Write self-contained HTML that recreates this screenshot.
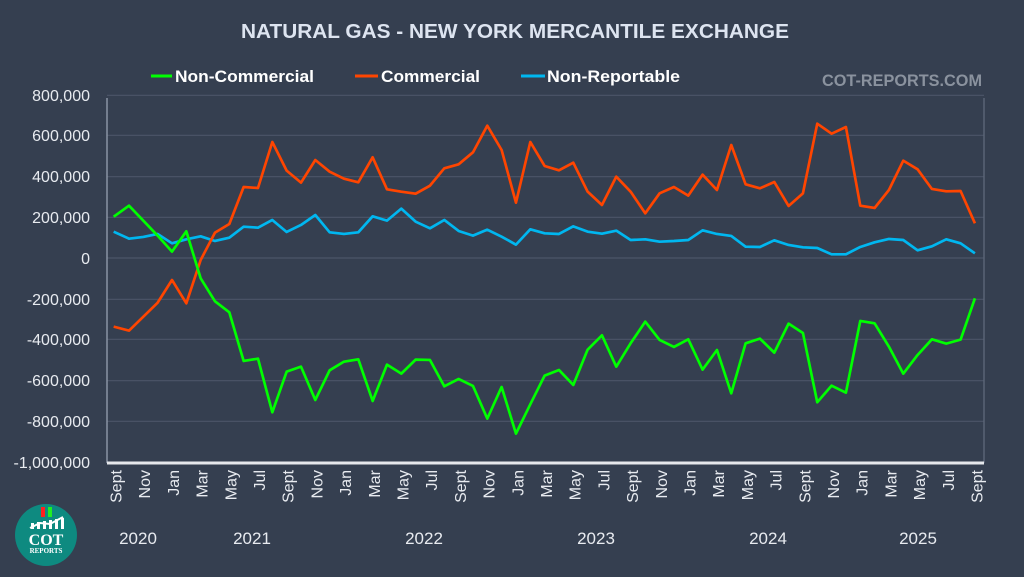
<!DOCTYPE html>
<html><head><meta charset="utf-8"><style>
html,body{margin:0;padding:0;background:#353f50;}
svg{display:block;font-family:"Liberation Sans",sans-serif;}
</style></head><body>
<svg width="1024" height="577" viewBox="0 0 1024 577" xmlns="http://www.w3.org/2000/svg">
<rect width="1024" height="577" fill="#353f50"/>
<text x="515" y="38" text-anchor="middle" font-size="20" font-weight="bold" fill="#dde4f0" textLength="548" lengthAdjust="spacingAndGlyphs">NATURAL GAS - NEW YORK MERCANTILE EXCHANGE</text>
<g font-size="17" fill="#ffffff" font-weight="bold">
<line x1="151" y1="76" x2="172" y2="76" stroke="#00ff00" stroke-width="3"/>
<text x="175" y="82" textLength="139" lengthAdjust="spacingAndGlyphs">Non-Commercial</text>
<line x1="355" y1="76" x2="378" y2="76" stroke="#ff4500" stroke-width="3"/>
<text x="381" y="82" textLength="99" lengthAdjust="spacingAndGlyphs">Commercial</text>
<line x1="521" y1="76" x2="545" y2="76" stroke="#00b7f0" stroke-width="3"/>
<text x="547" y="82" textLength="133" lengthAdjust="spacingAndGlyphs">Non-Reportable</text>
</g>
<text x="822" y="86" font-size="17" font-weight="bold" fill="#8a929e" textLength="160" lengthAdjust="spacingAndGlyphs">COT-REPORTS.COM</text>
<g stroke="#4c5668" stroke-width="1.2">
<line x1="107" y1="95.3" x2="984" y2="95.3"/><line x1="107" y1="135.3" x2="984" y2="135.3"/>
<line x1="107" y1="176.7" x2="984" y2="176.7"/><line x1="107" y1="217.3" x2="984" y2="217.3"/>
<line x1="107" y1="258" x2="984" y2="258"/><line x1="107" y1="299.3" x2="984" y2="299.3"/>
<line x1="107" y1="339.3" x2="984" y2="339.3"/><line x1="107" y1="380.7" x2="984" y2="380.7"/>
<line x1="107" y1="421.3" x2="984" y2="421.3"/>
</g>
<line x1="107" y1="98" x2="107" y2="463" stroke="#8a94a4" stroke-width="1.5"/>
<line x1="984" y1="98" x2="984" y2="463" stroke="#5a6476" stroke-width="1.5"/>
<line x1="107" y1="463" x2="984" y2="463" stroke="#e6e8ec" stroke-width="3"/>
<g font-size="16" fill="#e8ebf0" text-anchor="end">
<text x="90" y="101">800,000</text><text x="90" y="141">600,000</text><text x="90" y="182">400,000</text>
<text x="90" y="223">200,000</text><text x="90" y="264">0</text><text x="90" y="305">-200,000</text>
<text x="90" y="345">-400,000</text><text x="90" y="386">-600,000</text><text x="90" y="427">-800,000</text>
<text x="90" y="468">-1,000,000</text>
</g>
<g transform="translate(100,90) scale(0.3333)" fill="none" stroke-width="8" stroke-linejoin="round">
<polyline stroke="#00b7f0" points="41,425 87,446 130,441 173,432 216,460 259,448 302,439 345,453 388,443 431,410 474,413 517,390 560,426 603,405 646,375 689,427 732,432 775,427 818,379 861,392 904,356 947,395 990,415 1033,390 1076,423 1119,437 1162,419 1205,440 1248,464 1291,418 1334,430 1377,432 1420,409 1463,425 1506,431 1549,422 1592,450 1636,448 1679,455 1722,453 1765,450 1808,421 1851,432 1894,438 1937,470 1980,471 2023,451 2066,465 2109,472 2152,474 2195,493 2238,493 2281,471 2324,457 2367,447 2410,450 2453,481 2496,469 2539,448 2582,460 2625,490"/>
<polyline stroke="#ff4500" points="41,710 87,722 130,680 173,638 216,570 259,640 302,510 345,428 388,402 431,291 474,294 517,156 560,242 603,278 646,210 689,245 732,266 775,277 818,202 861,298 904,305 947,311 990,287 1033,235 1076,223 1119,187 1162,107 1205,180 1248,338 1291,156 1334,228 1377,241 1420,218 1463,305 1506,345 1549,260 1592,305 1636,370 1679,310 1722,291 1765,317 1808,254 1851,300 1894,165 1937,283 1980,295 2023,276 2066,348 2109,310 2152,101 2195,131 2238,111 2281,347 2324,354 2367,300 2410,212 2453,238 2496,297 2539,304 2582,303 2625,400"/>
<polyline stroke="#00ff00" points="41,380 87,347 130,392 173,437 216,485 259,424 302,565 345,634 388,667 431,813 474,806 517,967 560,845 603,830 646,930 689,841 732,815 775,808 818,933 861,824 904,851 947,809 990,810 1033,889 1076,867 1119,888 1162,986 1205,891 1248,1031 1291,943 1334,857 1377,840 1420,885 1463,779 1506,736 1549,830 1592,760 1636,695 1679,750 1722,771 1765,748 1808,839 1851,780 1894,910 1937,760 1980,746 2023,788 2066,701 2109,729 2152,937 2195,887 2238,908 2281,693 2324,700 2367,770 2410,851 2453,795 2496,748 2539,761 2582,749 2625,625"/>
</g>
<g font-size="16" fill="#e8ebf0" id="xl"></g>
<g font-size="17" fill="#e8ebf0" text-anchor="middle">
<text x="138" y="544">2020</text><text x="252" y="544">2021</text><text x="424" y="544">2022</text>
<text x="596" y="544">2023</text><text x="768" y="544">2024</text><text x="918" y="544">2025</text>
</g>
<g>
<circle cx="46" cy="535" r="31" fill="#0e8a80"/>
<rect x="41" y="507" width="4" height="10" fill="#ff2020"/><rect x="48" y="507" width="4" height="10" fill="#22ee22"/>
<path d="M30 528 L40 523 L50 524 L63 517" stroke="#fff" stroke-width="2" fill="none"/>
<rect x="31" y="523" width="3" height="6" fill="#fff"/><rect x="37" y="522" width="3" height="7" fill="#fff"/><rect x="43" y="521" width="3" height="8" fill="#fff"/><rect x="49" y="520" width="3" height="9" fill="#fff"/><rect x="55" y="519" width="3" height="10" fill="#fff"/><rect x="61" y="518" width="3" height="11" fill="#fff"/>
<text x="46" y="545" text-anchor="middle" font-family="Liberation Serif,serif" font-weight="bold" font-size="16" fill="#fff">COT</text>
<text x="46" y="553" text-anchor="middle" font-family="Liberation Serif,serif" font-weight="bold" font-size="7" fill="#fff">REPORTS</text>
</g>
<g font-size="16" fill="#e8ebf0" text-anchor="end">
<text transform="translate(121.5,470) rotate(-90)">Sept</text>
<text transform="translate(150.2,470) rotate(-90)">Nov</text>
<text transform="translate(178.9,470) rotate(-90)">Jan</text>
<text transform="translate(207.6,470) rotate(-90)">Mar</text>
<text transform="translate(236.3,470) rotate(-90)">May</text>
<text transform="translate(265,470) rotate(-90)">Jul</text>
<text transform="translate(293.7,470) rotate(-90)">Sept</text>
<text transform="translate(322.4,470) rotate(-90)">Nov</text>
<text transform="translate(351.1,470) rotate(-90)">Jan</text>
<text transform="translate(379.8,470) rotate(-90)">Mar</text>
<text transform="translate(408.5,470) rotate(-90)">May</text>
<text transform="translate(437.2,470) rotate(-90)">Jul</text>
<text transform="translate(465.9,470) rotate(-90)">Sept</text>
<text transform="translate(494.6,470) rotate(-90)">Nov</text>
<text transform="translate(523.3,470) rotate(-90)">Jan</text>
<text transform="translate(552,470) rotate(-90)">Mar</text>
<text transform="translate(580.7,470) rotate(-90)">May</text>
<text transform="translate(609.4,470) rotate(-90)">Jul</text>
<text transform="translate(638.1,470) rotate(-90)">Sept</text>
<text transform="translate(666.8,470) rotate(-90)">Nov</text>
<text transform="translate(695.5,470) rotate(-90)">Jan</text>
<text transform="translate(724.2,470) rotate(-90)">Mar</text>
<text transform="translate(752.9,470) rotate(-90)">May</text>
<text transform="translate(781.6,470) rotate(-90)">Jul</text>
<text transform="translate(810.3,470) rotate(-90)">Sept</text>
<text transform="translate(839,470) rotate(-90)">Nov</text>
<text transform="translate(867.7,470) rotate(-90)">Jan</text>
<text transform="translate(896.4,470) rotate(-90)">Mar</text>
<text transform="translate(925.1,470) rotate(-90)">May</text>
<text transform="translate(953.8,470) rotate(-90)">Jul</text>
<text transform="translate(982.5,470) rotate(-90)">Sept</text>
</g>
</svg>
</body></html>
